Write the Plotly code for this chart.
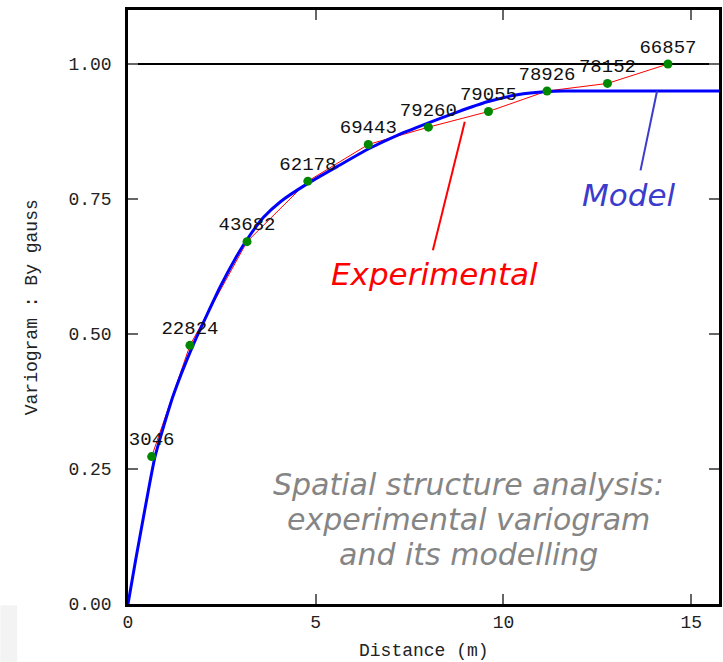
import plotly.graph_objects as go

# Experimental variogram: lag distance (m), gamma value and number of pairs per lag
lag_dist = [0.63, 1.65, 3.17, 4.79, 6.40, 8.00, 9.60, 11.16, 12.77, 14.38]
gamma_exp = [0.273, 0.479, 0.671, 0.783, 0.851, 0.883, 0.912, 0.950, 0.964, 1.000]
pair_counts = ["3046", "22824", "43682", "62178", "69443", "79260", "79055", "78926", "78152", "66857"]

# Fitted model curve (sill 0.95)
model_dist = [0.0, 0.2, 0.41, 0.72, 1.2, 1.73, 2.46, 2.86, 3.17, 3.61, 4.06, 4.77, 5.57, 6.41,
              7.17, 7.97, 8.77, 9.57, 10.37, 11.17, 11.6, 12.5, 15.77]
model_gamma = [0.0, 0.080, 0.160, 0.273, 0.385, 0.479, 0.588, 0.640, 0.675, 0.716, 0.745, 0.778,
               0.810, 0.843, 0.868, 0.890, 0.911, 0.930, 0.943, 0.949, 0.950, 0.950, 0.950]

x_ticks = [0, 5, 10, 15]
y_ticks = [0.0, 0.25, 0.5, 0.75, 1.0]
y_tick_text = ["0.00", "0.25", "0.50", "0.75", "1.00"]

caption_lines = ["Spatial structure analysis:", "experimental variogram", "and its modelling"]
caption_y = [0.222, 0.156, 0.091]

mono = "Liberation Mono, Courier New, monospace"
italic_sans = "DejaVu Sans, Verdana, sans-serif"
axis_font = dict(family=mono, size=18, color="#222222")

fig = go.Figure()

# reference variance line
fig.add_trace(go.Scatter(x=[0, 15.77], y=[1.0, 1.0], mode="lines",
                         line=dict(color="black", width=2), hoverinfo="skip"))

# experimental variogram polyline
fig.add_trace(go.Scatter(x=lag_dist, y=gamma_exp, mode="lines",
                         line=dict(color="#ff0000", width=1)))

# model
fig.add_trace(go.Scatter(x=model_dist, y=model_gamma, mode="lines",
                         line=dict(color="#0000ff", width=3, shape="spline", smoothing=0.5)))

# experimental points with pair counts
fig.add_trace(go.Scatter(x=lag_dist, y=gamma_exp, mode="markers+text",
                         marker=dict(color="#008800", size=9),
                         text=pair_counts, textposition="top center",
                         textfont=dict(family=mono, size=19, color="#111111")))

annotations = [
    dict(x=8.15, y=0.612, text="Experimental", showarrow=False,
         font=dict(family=italic_sans, size=31, color="#ff0000", style="italic", weight=300)),
    dict(x=13.33, y=0.757, text="Model", showarrow=False,
         font=dict(family=italic_sans, size=31, color="#3b3bcc", style="italic", weight=300)),
    # axis titles
    dict(xref="paper", yref="paper", x=0.5, y=-0.079, yanchor="middle",
         text="Distance (m)", showarrow=False, font=axis_font),
    dict(xref="paper", yref="paper", x=-0.162, y=0.5, xanchor="center", yanchor="middle",
         text="Variogram : By gauss", textangle=-90, showarrow=False, font=axis_font),
]
for line_text, ly in zip(caption_lines, caption_y):
    annotations.append(dict(x=9.07, y=ly, text=line_text, showarrow=False, align="center",
                            font=dict(family=italic_sans, size=30, color="#858585",
                                      style="italic", weight=200)))

shapes = [
    # pointer lines from labels to curves
    dict(type="line", xref="x", yref="y", x0=8.12, y0=0.655, x1=8.97, y1=0.893,
         line=dict(color="#ff0000", width=2)),
    dict(type="line", xref="x", yref="y", x0=13.65, y0=0.803, x1=14.09, y1=0.95,
         line=dict(color="#3b3bcc", width=2)),
    dict(type="rect", xref="paper", yref="paper", x0=-0.216, x1=-0.1875, y0=-0.0976, y1=-0.002,
         fillcolor="#f3f3f3", line=dict(width=0), layer="below"),
]

fig.update_layout(
    width=723, height=662,
    margin=dict(l=128, r=4, t=10, b=58),
    paper_bgcolor="white", plot_bgcolor="white",
    showlegend=False,
    annotations=annotations,
    shapes=shapes,
    font=axis_font,
)

fig.update_xaxes(
    range=[0, 15.74], tickvals=x_ticks, ticks="inside", ticklen=10, tickwidth=1.5,
    tickcolor="#666666", showgrid=False, zeroline=False, automargin=False,
    showline=True, linecolor="black", linewidth=2.5, mirror="ticks",
    tickfont=axis_font,
)
fig.update_yaxes(
    range=[0, 1.1], tickvals=y_ticks, ticktext=y_tick_text, ticks="inside", ticklen=10,
    tickwidth=1.5, tickcolor="#666666", showgrid=False, zeroline=False, automargin=False,
    showline=True, linecolor="black", linewidth=2.5, mirror="ticks",
    ticklabelstandoff=10,
    tickfont=axis_font,
)

fig.write_html("out.html")
